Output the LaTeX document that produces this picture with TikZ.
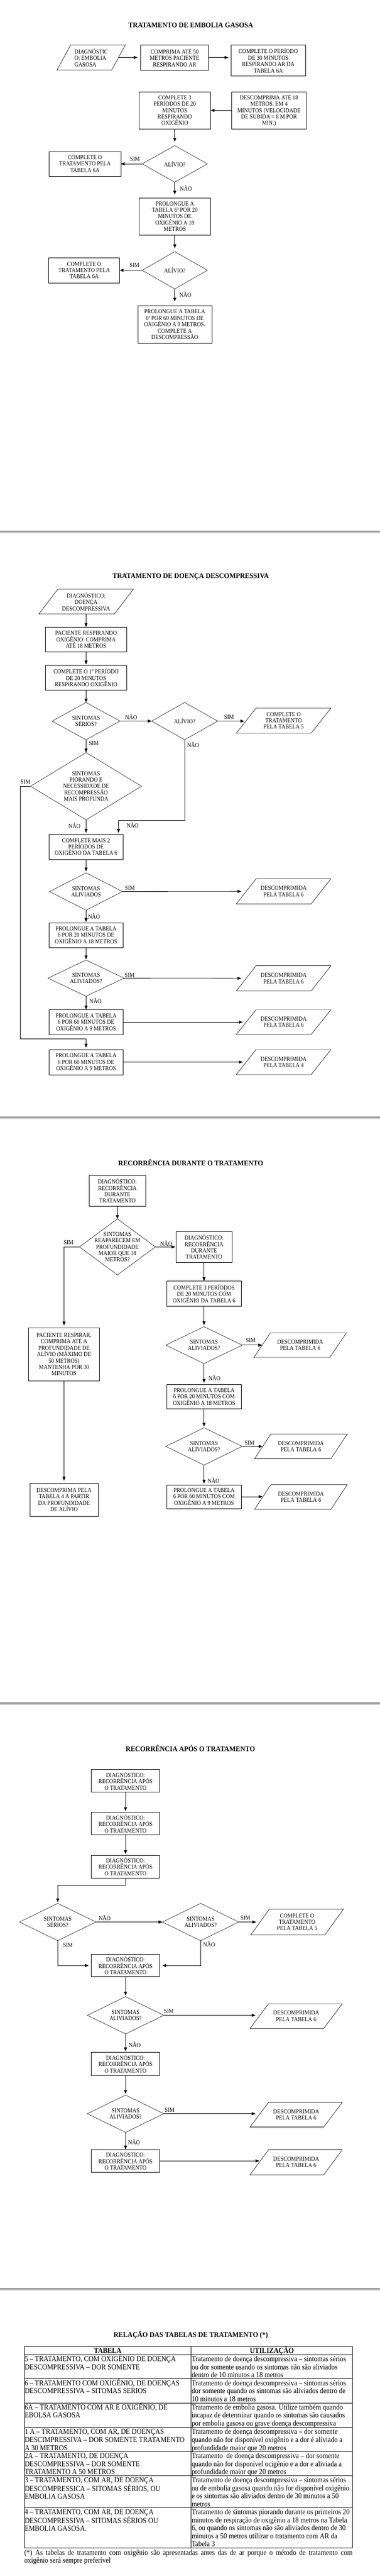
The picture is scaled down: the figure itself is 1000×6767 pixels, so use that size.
\documentclass[tikz,border=0pt]{standalone}
\usepackage{fontspec}
\setmainfont{Liberation Serif}
\newfontfamily\nfont[FakeStretch=0.9]{Liberation Serif}
\newfontfamily\tfont[FakeStretch=0.95]{Liberation Serif}
\usetikzlibrary{shapes.geometric,arrows.meta}
\definecolor{sepdark}{RGB}{158,158,158}
\definecolor{seplight}{RGB}{208,208,208}
\newcommand\tabstrut{\rule{0pt}{18pt}}
\tikzset{
 every node/.style={inner sep=0pt, outer sep=0pt},
 nodetext/.style={font=\nfont\fontsize{16}{16.8}\selectfont},
 box/.style={rectangle, draw, line width=0.9pt, align=center, nodetext},
 dia/.style={diamond, draw, line width=0.8pt},
 txt/.style={align=center, nodetext},
 parabox/.style={rectangle, align=center, nodetext},
 boxline/.style={line width=0.9pt},
 lbl/.style={nodetext},
 ttl/.style={font=\tfont\bfseries\fontsize{19}{22}\selectfont},
 arr/.style={line width=1.1pt, -{Triangle[length=10pt,width=8pt]}},
 tabtext/.style={font=\nfont\fontsize{20}{21}\selectfont, align=left, anchor=north west},
 tabhead/.style={font=\nfont\bfseries\fontsize{20}{21}\selectfont, anchor=base},
 tabline/.style={line width=1.1pt},
}
\newcommand\mybox[6]{\node[box, minimum width=#4pt, minimum height=#5pt] (#1) at (#2,#3) {#6};}
\newcommand\mydia[6]{\node[dia, minimum width=#4pt, minimum height=#5pt] (#1) at (#2,#3) {};
  \node[txt] (#1t) at (#2,#3) {#6};}
\newcommand\mypara[7]{\node[parabox, minimum width=#4pt, minimum height=#5pt] (#1) at (#2,#3) {#7};
  \draw[boxline] ([xshift=#6pt]#1.north west) -- (#1.north east) -- ([xshift=-#6pt]#1.south east) -- (#1.south west) -- cycle;}
\begin{document}
\begin{tikzpicture}[x=1pt,y=-1pt]
\fill[white] (0,0) rectangle (1000,6767);
\useasboundingbox (0,0) rectangle (1000,6767);

% ---------------- SECTION 1 ----------------
\node[ttl] (t1) at (502,66) {TRATAMENTO DE EMBOLIA GASOSA};
\node[parabox, align=left, minimum width=180pt, minimum height=66pt] (a1) at (240,151) {DIAGNÓSTIC\\O: EMBOLIA\\GASOSA};
\draw[boxline] ([xshift=36pt]a1.north west) -- (a1.north east) -- ([xshift=-36pt]a1.south east) -- (a1.south west) -- cycle;
\mybox{a2}{459.5}{151}{179}{66}{COMPRIMA ATÉ 50\\METROS PACIENTE\\RESPIRANDO AR}
\mybox{a3}{706}{159}{196}{82}{COMPLETE O PERÍODO\\DE 30 MINUTOS\\RESPIRANDO AR DA\\TABELA 6A}
\mybox{a4}{708}{290}{196}{98}{DESCOMPRIMA ATÉ 18\\METROS. EM 4\\MINUTOS (VELOCIDADE\\DE SUBIDA = 8 M POR\\MIN.)}
\mybox{a5}{460}{290}{189}{98}{COMPLETE 3\\PERÍODOS DE 20\\MINUTOS\\RESPIRANDO\\OXIGÊNIO}
\mydia{d1}{460}{430.5}{172}{96}{ALÍVIO?}
\mybox{a6}{223.5}{430.5}{189}{65}{COMPLETE O\\TRATAMENTO PELA\\TABELA 6A}
\mybox{a7}{460}{568.5}{188}{97}{PROLONGUE A\\TABELA 6ª POR 20\\MINUTOS DE\\OXIGÊNIO A 18\\METROS}
\mydia{d2}{460}{710}{172}{98}{ALÍVIO?}
\mybox{a8}{221.5}{710}{187}{67}{COMPLETE O\\TRATAMENTO PELA\\TABELA 6A}
\mybox{a9}{460}{852.5}{195}{99}{PROLONGUE A TABELA\\6ª POR 60 MINUTOS DE\\OXIGÊNIO A 9 METROS.\\COMPLETE A\\DESCOMPRESSÃO}

\draw[arr, shorten >=8pt] ([xshift=-18pt]a1.east) -- (a2.west);
\draw[arr, shorten >=7pt] (a2.east) -- (a2.east -| a3.west);
\draw[arr] (a4.west) -- (a5.east);
\draw[arr, shorten >=10pt] (a5.south) -- (d1.north);
\draw[arr] (d1.west) -- (a6.east);
\draw[arr, shorten >=9pt] (d1.south) -- (a7.north);
\draw[arr, shorten >=9pt] (a7.south) -- (d2.north);
\draw[arr] (d2.west) -- (a8.east);
\draw[arr, shorten >=11pt] (d2.south) -- (a9.north);

\node[lbl] (l1) at (355.2,417.1) {SIM};
\node[lbl] (l2) at (489.2,494.6) {NÃO};
\node[lbl] (l3) at (354,696.2) {SIM};
\node[lbl] (l4) at (487.9,773) {NÃO};

% separator
\fill[sepdark] (0,1393.6) rectangle (1000,1398.4);
\fill[seplight] (0,1398.4) rectangle (1000,1400.4);

% ---------------- SECTION 2 ----------------
\node[ttl] (t2) at (502,1515) {TRATAMENTO DE DOENÇA DESCOMPRESSIVA};
\mypara{b0}{226.5}{1580.5}{249}{65}{50}{DIAGNÓSTICO:\\DOENÇA\\DESCOMPRESSIVA}
\mybox{b1}{226.5}{1680}{215}{66}{PACIENTE RESPIRANDO\\OXIGÊNIO: COMPRIMA\\ATÉ 18 METROS}
\mybox{b2}{226.5}{1780}{215}{65}{COMPLETE O 1º PERÍODO\\DE 20 MINUTOS\\RESPIRANDO OXIGÊNIO}
\mydia{e1}{226.5}{1894.3}{179}{98}{SINTOMAS\\SÉRIOS?}
\mydia{e2}{486}{1894.3}{174}{98}{ALÍVIO?}
\mypara{b3}{746.5}{1893}{249}{66}{52}{COMPLETE O\\TRATAMENTO\\PELA TABELA 5}
\mydia{e3}{226.5}{2065.3}{292}{177}{SINTOMAS\\PIORANDO E\\NECESSIDADE DE\\RECOMPRESSÃO\\MAIS PROFUNDA}
\mybox{b4}{226.5}{2224.5}{195}{66}{COMPLETE MAIS 2\\PERÍODOS DE\\OXIGÊNIO DA TABELA 6}
\mydia{e4}{226.5}{2342}{192}{98}{SINTOMAS\\ALIVIADOS}
\mypara{q1}{746.5}{2341.5}{249}{66}{52}{DESCOMPRIMIDA\\PELA TABELA 6}
\mybox{b5}{226.5}{2456.5}{196}{65}{PROLONGUE A TABELA\\6 POR 20 MINUTOS DE\\OXIGÊNIO A 18 METROS}
\mydia{e5}{226.5}{2569.5}{200}{95}{SINTOMAS\\ALIVIADOS?}
\mypara{q2}{746.5}{2570}{249}{66}{52}{DESCOMPRIMIDA\\PELA TABELA 6}
\mybox{b6}{226.5}{2685}{196}{66}{PROLONGUE A TABELA\\6 POR 60 MINUTOS DE\\OXIGÊNIO A 9 METROS}
\mypara{q3}{746.5}{2685}{249}{65}{52}{DESCOMPRIMIDA\\PELA TABELA 6}
\mybox{b7}{226.5}{2790}{196}{66}{PROLONGUE A TABELA\\6 POR 60 MINUTOS DE\\OXIGÊNIO A 9 METROS}
\mypara{q4}{746.5}{2790}{249}{66}{52}{DESCOMPRIMIDA\\PELA TABELA 4}

\draw[arr] (b0.south) -- (b1.north);
\draw[arr, shorten >=2pt] (b1.south) -- (b2.north);
\draw[arr] (b2.south) -- (e1.north);
\draw[arr] (e1.east) -- (e2.west);
\draw[arr, shorten >=5pt] (e2.east) -- ([xshift=26pt]b3.west |- e2.east);
\draw[arr] (e1.south) -- (e3.north);
\coordinate (k1) at (53.6,2729);
\draw[arr, shorten >=5pt] (e3.west) -| (k1) -| (b7.north);
\coordinate (k2) at (312,2155);
\draw[arr, shorten >=4pt] (e2.south) |- (k2) -- (k2 |- b4.north);
\draw[arr, shorten >=4pt] (e3.south) -- (b4.north);
\draw[arr, shorten >=4pt] (b4.south) -- (e4.north);
\draw[arr, shorten >=13pt] (e4.east) -- ([xshift=26pt]q1.west);
\draw[arr, shorten >=2pt] (e4.south) -- (b5.north);
\draw[arr, shorten >=2pt] (b5.south) -- (e5.north);
\draw[arr, shorten >=13pt] (e5.east) -- ([xshift=26pt]q2.west);
\draw[arr] (e5.south) -- (b6.north);
\draw[arr, shorten >=9pt] (b6.east) -- ([xshift=26pt]q3.west);
\draw[arr, shorten >=9pt] (b7.east) -- ([xshift=26pt]q4.west);

\node[lbl] (l5) at (345,1884) {NÃO};
\node[lbl] (l6) at (602.7,1884) {SIM};
\node[lbl] (l7) at (246.8,1952.3) {SIM};
\node[lbl] (l8) at (508.3,1956.7) {NÃO};
\node[lbl] (l9) at (67,2054) {SIM};
\node[lbl] (l10) at (195.8,2169.3) {NÃO};
\node[lbl] (l11) at (348.9,2167.7) {NÃO};
\node[lbl] (l12) at (341.8,2332.5) {SIM};
\node[lbl] (l13) at (247.4,2407.5) {NÃO};
\node[lbl] (l14) at (341.2,2561) {SIM};
\node[lbl] (l15) at (251.3,2629) {NÃO};

% separator
\fill[sepdark] (0,2932.9) rectangle (1000,2937.3);
\fill[seplight] (0,2937.3) rectangle (1000,2939.2);

% ---------------- SECTION 3 ----------------
\node[ttl] (t3) at (502,3054.3) {RECORRÊNCIA DURANTE O TRATAMENTO};
\mybox{c1}{309}{3128}{148}{82}{DIAGNÓSTICO:\\RECORRÊNCIA\\DURANTE\\TRATAMENTO}
\mydia{f1}{309}{3275.5}{200}{147}{SINTOMAS\\REAPARECEM EM\\PROFUNDIDADE\\MAIOR QUE 18\\METROS?}
\mybox{c2}{537}{3275.5}{147}{82}{DIAGNÓSTICO:\\RECORRÊNCIA\\DURANTE\\TRATAMENTO}
\mybox{c3}{537}{3398}{196}{66}{COMPLETE 3 PERÍODOS\\DE 20 MINUTOS COM\\OXIGÊNIO DA TABELA 6}
\mydia{f2}{537}{3533.5}{201}{97}{SINTOMAS\\ALIVIADOS?}
\mypara{r1}{790}{3533.5}{244}{65}{44}{DESCOMPRIMIDA\\PELA TABELA 6}
\mybox{c4}{537}{3669}{196}{63}{PROLONGUE A TABELA\\6 POR 20 MINUTOS COM\\OXIGÊNIO A 18 METROS}
\mydia{f3}{537}{3799.5}{201}{98}{SINTOMAS\\ALIVIADOS?}
\mypara{r2}{792}{3799.5}{244}{65}{43}{DESCOMPRIMIDA\\PELA TABELA 6}
\mybox{c5}{537}{3931.6}{196}{62.5}{PROLONGUE A TABELA\\6 POR 60 MINUTOS COM\\OXIGÊNIO A 9 METROS}
\mypara{r3}{792}{3932.5}{244}{65}{43}{DESCOMPRIMIDA\\PELA TABELA 6}
\mybox{c6}{168.5}{3557.7}{187}{139.5}{PACIENTE RESPIRAR,\\COMPRIMA ATÉ A\\PROFUNDIDADE DE\\ALÍVIO (MÁXIMO DE\\50 METROS)\\MANTENHA POR 30\\MINUTOS}
\mybox{c7}{168.5}{3939.7}{180}{86.6}{DESCOMPRIMA PELA\\TABELA 4 A PARTIR\\DA PROFUNDIDADE\\DE ALÍVIO}

\draw[arr] (c1.south) -- (f1.north);
\draw[arr, shorten >=2pt] (f1.east) -- (c2.west);
\draw[arr, shorten >=6pt] (f1.west) -| (c6.north);
\draw[arr] (c2.south) -- (c3.north);
\draw[arr, shorten >=4pt] (c3.south) -- (f2.north);
\draw[arr] (f2.east) -- ([xshift=22pt]r1.west);
\draw[arr, shorten >=5pt] (f2.south) -- (c4.north);
\draw[arr, shorten >=3pt] (c4.south) -- (f3.north);
\draw[arr] (f3.east) -- ([xshift=21pt]r2.west);
\draw[arr, shorten >=3pt] (f3.south) -- (c5.north);
\draw[arr] (c5.east) -- ([xshift=21pt]r3.west |- c5.east);
\draw[arr, shorten >=7pt] (c6.south) -- (c7.north);

\node[lbl] (l16) at (180.5,3264.3) {SIM};
\node[lbl] (l17) at (437.5,3266.8) {NÃO};
\node[lbl] (l18) at (660,3521.6) {SIM};
\node[lbl] (l19) at (564.4,3620) {NÃO};
\node[lbl] (l20) at (656.9,3790) {SIM};
\node[lbl] (l21) at (561.9,3888.9) {NÃO};

% separator
\fill[sepdark] (0,4470.9) rectangle (1000,4476.4);
\fill[seplight] (0,4476.4) rectangle (1000,4478.5);

% ---------------- SECTION 4 ----------------
\node[ttl] (t4) at (501,4592.9) {RECORRÊNCIA APÓS O TRATAMENTO};
\mybox{g1}{330.4}{4678.3}{180}{59.5}{DIAGNÓSTICO:\\RECORRÊNCIA APÓS\\O TRATAMENTO}
\mybox{g2}{330.4}{4790.5}{180}{60}{DIAGNÓSTICO:\\RECORRÊNCIA APÓS\\O TRATAMENTO}
\mybox{g3}{330.4}{4903.2}{180}{59.6}{DIAGNÓSTICO:\\RECORRÊNCIA APÓS\\O TRATAMENTO}
\mydia{h1}{152}{5049}{201}{98}{SINTOMAS\\SÉRIOS?}
\mydia{h2}{528}{5049}{201}{98}{SINTOMAS\\ALIVIADOS?}
\mypara{s1}{782}{5049}{244}{68}{49}{COMPLETE O\\TRATAMENTO\\PELA TABELA 5}
\mybox{g4}{330.4}{5163.2}{180}{59}{DIAGNÓSTICO:\\RECORRÊNCIA APÓS\\O TRATAMENTO}
\mydia{h3}{330.4}{5294}{201}{98}{SINTOMAS\\ALIVIADOS?}
\mypara{s2}{779.5}{5296}{243}{65}{49}{DESCOMPRIMIDA\\PELA TABELA 6}
\mybox{g5}{330.4}{5421.5}{180}{60}{DIAGNÓSTICO:\\RECORRÊNCIA APÓS\\O TRATAMENTO}
\mydia{h4}{330.4}{5552.5}{201}{98}{SINTOMAS\\ALIVIADOS?}
\mypara{s3}{779.5}{5555}{243}{65}{49}{DESCOMPRIMIDA\\PELA TABELA 6}
\mybox{g6}{330.4}{5676.4}{180}{60}{DIAGNÓSTICO:\\RECORRÊNCIA APÓS\\O TRATAMENTO}
\mypara{s4}{779.5}{5680}{243}{66}{49}{DESCOMPRIMIDA\\PELA TABELA 6}

\draw[arr, shorten >=3pt] (g1.south) -- (g2.north);
\draw[arr, shorten >=3pt] (g2.south) -- (g3.north);
\coordinate (k3) at (152,4953);
\draw[arr, shorten >=3pt] (g3.south) |- (k3) -- (h1.north);
\draw[arr] (h1.east) -- (h2.west);
\draw[arr, shorten >=10pt] (h2.east) -- ([xshift=24.5pt]s1.west);
\draw[arr, shorten >=7pt] (h1.south) |- (g4.west);
\draw[arr, shorten >=7pt] (h2.south) |- (g4.east);
\draw[arr, shorten >=3pt] (g4.south) -- (h3.north);
\draw[arr, shorten >=10pt] (h3.east) -- ([xshift=24.5pt]s2.west |- h3.east);
\draw[arr, shorten >=3pt] (h3.south) -- (g5.north);
\draw[arr, shorten >=3pt] (g5.south) -- (h4.north);
\draw[arr, shorten >=10pt] (h4.east) -- ([xshift=24.5pt]s3.west |- h4.east);
\draw[arr] (h4.south) -- (g6.north);
\draw[arr] (g6.east) -- ([xshift=24.5pt]s4.west |- g6.east);

\node[lbl] (l22) at (275.5,5037.7) {NÃO};
\node[lbl] (l23) at (646,5037.7) {SIM};
\node[lbl] (l24) at (178.6,5109.9) {SIM};
\node[lbl] (l25) at (550.4,5107.5) {NÃO};
\node[lbl] (l26) at (444.5,5283) {SIM};
\node[lbl] (l27) at (354.6,5371.7) {NÃO};
\node[lbl] (l28) at (446.4,5543.2) {SIM};
\node[lbl] (l29) at (352.7,5626.8) {NÃO};

% separator
\fill[sepdark] (0,6010.7) rectangle (1000,6015);
\fill[seplight] (0,6015) rectangle (1000,6016.9);

% ---------------- SECTION 5 ----------------
\node[ttl] (t5) at (502,6133.3) {RELAÇÃO DAS TABELAS DE TRATAMENTO (*)};
\foreach \yy in {6163.3,6185.3,6248.3,6312.3,6376.7,6439.7,6503.3,6587.3,6693.3}
  \draw[tabline] (64,\yy) -- (928,\yy);
\foreach \xx in {64,503,928}
  \draw[tabline] (\xx,6163.3) -- (\xx,6693.3);

\node[tabhead] (th1) at (283.5,6181.6) {TABELA};
\node[tabhead] (th2) at (715.5,6181.6) {UTILIZAÇÃO};

\node[tabtext] (r1a) at (65,6185.3) {\tabstrut 5 – TRATAMENTO, COM OXIGÊNIO DE DOENÇA\\DESCOMPRESSIVA – DOR SOMENTE};
\node[tabtext] (r1b) at (504.5,6185.3) {\tabstrut Tratamento de doença descompressiva – sintomas sérios\\ou dor somente usando os sintomas não são aliviados\\dentro de 10 minutos a 18 metros};
\node[tabtext] (r2a) at (65,6248.3) {\tabstrut 6 – TRATAMENTO COM OXIGÊNIO, DE DOENÇAS\\DESCOMPRESSIVA – SITOMAS SERIOS};
\node[tabtext] (r2b) at (504.5,6248.3) {\tabstrut Tratamento de doença descompressiva – sintomas sérios\\dor somente quando os sintomas são aliviados dentro de\\10 minutos a 18 metros};
\node[tabtext] (r3a) at (65,6312.3) {\tabstrut 6A – TRATAMENTO COM AR E OXIGÊNIO, DE\\EBOLSA GASOSA};
\node[tabtext] (r3b) at (504.5,6312.3) {\tabstrut Tratamento de embolia gasosa. Utilize também quando\\incapaz de determinar quando os sintomas são causados\\por embolia gasosa ou grave doença descompressiva};
\node[tabtext] (r4a) at (65,6376.7) {\tabstrut 1 A – TRATAMENTO, COM AR, DE DOENÇAS\\DESCIMPRESSIVA – DOR SOMENTE TRATAMENTO\\A 30 METROS};
\node[tabtext] (r4b) at (504.5,6376.7) {\tabstrut Tratamento de doença descompressiva – dor somente\\quando não for disponível oxigênio e a dor é aliviado a\\profundidade maior que 20 metros};
\node[tabtext] (r5a) at (65,6439.7) {\tabstrut 2A – TRATAMENTO, DE DOENÇA\\DESCOMPRESSIVA – DOR SOMENTE\\TRATAMENTO A 50 METROS};
\node[tabtext] (r5b) at (504.5,6439.7) {\tabstrut Tratamento\ \ de doença descompressiva – dor somente\\quando não for disponível ocigênio e a dor e aliviada a\\profundidade maior que 20 metros};
\node[tabtext] (r6a) at (65,6503.3) {\tabstrut 3 – TRATAMENTO, COM AR, DE DOENÇA\\DESCOMPRESSICA – SITOMAS SÉRIOS, OU\\EMBOLIA GASOSA};
\node[tabtext] (r6b) at (504.5,6503.3) {\tabstrut Tratamento de doença descompressiva – sintomas sérios\\ou de embolia gasosa quando não for disponível oxigênio\\e os sintomas são aliviados dentro de 30 minutos a 50\\metros};
\node[tabtext] (r7a) at (65,6587.3) {\tabstrut 4 – TRATAMENTO, COM AR, DE DOENÇA\\DESCOMPRESSIVA – SITOMAS SÉRIOS OU\\EMBOLIA GASOSA.};
\node[tabtext] (r7b) at (504.5,6587.3) {\tabstrut Tratamento de sintomas piorando durante os primeiros 20\\minutos de respiração de oxigênio a 18 metros na Tabela\\6, ou quando os sintomas não são aliviados dentro de 30\\minutos a 50 metros utilizar o tratamento com AR da\\Tabela 3};

\node[font=\nfont\fontsize{20}{21}\selectfont, anchor=base west] (fn1) at (64,6712.6) {\makebox[864pt][s]{(*) As tabelas de tratamento com oxigênio são apresentadas antes das de ar porque o método de tratamento com}};
\node[font=\nfont\fontsize{20}{21}\selectfont, anchor=base west] (fn2) at (64,6732.6) {oxigênio será sempre preferível};
\end{tikzpicture}
\end{document}
